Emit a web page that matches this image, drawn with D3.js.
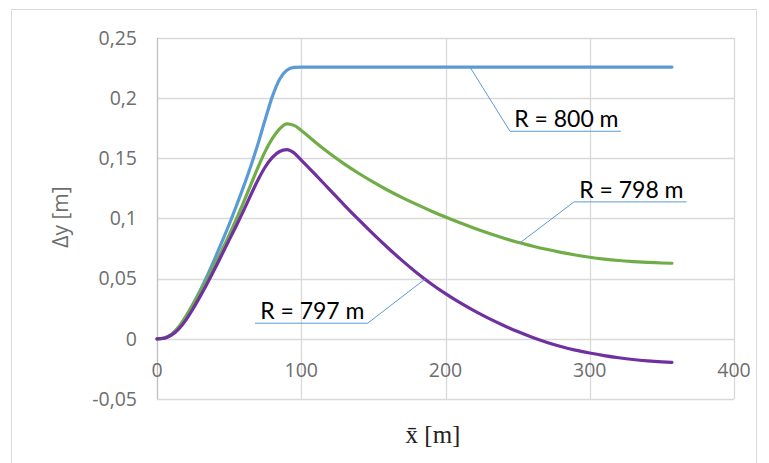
<!DOCTYPE html>
<html>
<head>
<meta charset="utf-8">
<script src="https://cdn.jsdelivr.net/npm/d3@7/dist/d3.min.js"></script>
<style>
  html, body { margin: 0; padding: 0; background: #fff; }
  svg { display: block; }
</style>
</head>
<body>
<svg id="chart" width="769" height="463"></svg>
<script>
// ---- data ----
const xs = [0,5,10,15,20,25,30,35,40,45,50,55,60,65,70,75,80,85,90,95,100,
  110,120,130,140,150,160,170,180,190,200,210,220,230,240,250,260,270,280,290,300,
  310,320,330,340,350,357];

const r800 = [0,0.0006,0.0037,0.0095,0.0185,0.029,0.0405,0.053,0.0665,0.0805,0.095,0.1105,0.1265,0.1435,0.162,0.1822,0.2015,0.2158,0.2232,0.2256,0.2258,
  0.2258,0.2258,0.2258,0.2258,0.2258,0.2258,0.2258,0.2258,0.2258,0.2258,0.2258,0.2258,0.2258,0.2258,0.2258,0.2258,0.2258,0.2258,0.2258,0.2258,
  0.2258,0.2258,0.2258,0.2258,0.2258,0.2258];

const r798 = [0,0.0006,0.0036,0.0098,0.0185,0.0285,0.039,0.050,0.0615,0.0735,0.0862,0.0995,0.1135,0.128,0.1425,0.1558,0.1665,0.1745,0.1786,0.1774,0.1732,
  0.1632,0.1538,0.1452,0.1374,0.1302,0.1235,0.1174,0.1117,0.1063,0.1012,0.0964,0.0919,0.0877,0.0838,0.0802,0.0772,0.0744,0.0719,0.0697,0.0678,
  0.0663,0.0651,0.0642,0.0635,0.063,0.0628];

const r797 = [0,0.0005,0.003,0.008,0.0155,0.025,0.0355,0.0465,0.058,0.070,0.082,0.094,0.1065,0.1195,0.132,0.1428,0.1508,0.1557,0.1572,0.1545,0.1485,
  0.1362,0.1236,0.111,0.0988,0.087,0.0757,0.065,0.055,0.0458,0.0375,0.030,0.0232,0.017,0.0113,0.0061,0.0014,-0.0028,-0.0064,-0.0094,-0.0118,
  -0.0139,-0.0157,-0.0172,-0.0183,-0.0191,-0.0195];

const seriesNames = ["R = 800 m", "R = 798 m", "R = 797 m"];
const xTicks = [0, 100, 200, 300, 400];
const xTickLabels = ["0", "100", "200", "300", "400"];
const yTicks = [0.25, 0.2, 0.15, 0.1, 0.05, 0, -0.05];
const yTickLabels = ["0,25", "0,2", "0,15", "0,1", "0,05", "0", "-0,05"];
const xTitle = "x\u0304 [m]";
const yTitle = "\u0394y [m]";

// ---- layout / style ----
const colors = ["#5B9BD5", "#70AD47", "#7030A0"];
const svg = d3.select("#chart");
const x = d3.scaleLinear().domain([0, 400]).range([157, 734]);
const y = d3.scaleLinear().domain([-0.05, 0.25]).range([399, 38]);

// outer border
svg.append("rect").attr("x", 11.5).attr("y", 9.5).attr("width", 745).attr("height", 480)
  .attr("fill", "none").attr("stroke", "#d9d9d9").attr("stroke-width", 1);

// gridlines
const grid = svg.append("g");
grid.selectAll(".hg").data(yTicks).join("line")
  .attr("x1", x(0)).attr("x2", x(400))
  .attr("y1", d => Math.round(y(d)) + 0.5).attr("y2", d => Math.round(y(d)) + 0.5)
  .attr("stroke", "#d9d9d9").attr("stroke-width", 1.3);
grid.selectAll(".vg").data(xTicks.slice(1)).join("line")
  .attr("y1", y(0.25)).attr("y2", y(-0.05))
  .attr("x1", d => Math.round(x(d)) + 0.5).attr("x2", d => Math.round(x(d)) + 0.5)
  .attr("stroke", "#d9d9d9").attr("stroke-width", 1.3);
// vertical axis line
svg.append("line").attr("x1", x(0) + 0.5).attr("x2", x(0) + 0.5)
  .attr("y1", y(0.25)).attr("y2", y(-0.05))
  .attr("stroke", "#bfbfbf").attr("stroke-width", 1.3);

// tick labels
const tickFont = "'Open Sans', 'Noto Sans', sans-serif";
const tickColor = "#6e6e6e";
svg.append("g").selectAll("text").data(yTicks).join("text")
  .attr("x", 137).attr("y", d => y(d)).attr("dy", "0.35em")
  .attr("text-anchor", "end").attr("font-family", tickFont).attr("font-size", 19.5)
  .attr("fill", tickColor).text((d, i) => yTickLabels[i]);
svg.append("g").selectAll("text").data(xTicks).join("text")
  .attr("x", d => x(d)).attr("y", y(-0.026)).attr("dy", "0.35em")
  .attr("text-anchor", "middle").attr("font-family", tickFont).attr("font-size", 19.5)
  .attr("fill", tickColor).text((d, i) => xTickLabels[i]);

// axis titles
svg.append("text").attr("transform", "translate(68,217) rotate(-90)")
  .attr("text-anchor", "middle").attr("font-family", tickFont).attr("font-size", 21)
  .attr("fill", tickColor).text(yTitle);
svg.append("text").attr("x", 433).attr("y", 443)
  .attr("text-anchor", "middle").attr("font-family", "'Liberation Serif', 'DejaVu Serif', serif")
  .attr("font-size", 25).attr("fill", "#222").text(xTitle);

// series lines
const allSeries = [r800, r798, r797];
const line = d3.line().x(d => x(d[0])).y(d => y(d[1])).curve(d3.curveMonotoneX);
allSeries.forEach((vals, i) => {
  svg.append("path").datum(xs.map((xv, j) => [xv, vals[j]]))
    .attr("d", line).attr("fill", "none").attr("stroke", colors[i])
    .attr("stroke-width", 3.2).attr("stroke-linecap", "round").attr("stroke-linejoin", "round");
});

// annotations (data units): anchor x on series, underline from x0 to x1 at yv
const annotations = [
  { s: 0, ax: 217, x0: 244.7, x1: 321.5, yv: 0.1725 },
  { s: 1, ax: 251.6, x0: 289.1, x1: 367.2, yv: 0.1138 },
  { s: 2, ax: 185.8, x0: 67.9, x1: 146.1, yv: 0.013 }
];
function interp(vals, xv) {
  const i = Math.max(1, d3.bisectLeft(xs, xv));
  const t = (xv - xs[i - 1]) / (xs[i] - xs[i - 1]);
  return vals[i - 1] + t * (vals[i] - vals[i - 1]);
}
annotations.forEach(a => {
  const ay = interp(allSeries[a.s], a.ax);
  const anchorIsRight = a.ax > a.x1;
  const joinX = anchorIsRight ? a.x1 : a.x0;
  svg.append("polyline")
    .attr("points", [[x(a.ax), y(ay)], [x(joinX), y(a.yv)], [x(anchorIsRight ? a.x0 : a.x1), y(a.yv)]]
      .map(p => p.join(",")).join(" "))
    .attr("fill", "none").attr("stroke", "#5B9BD5").attr("stroke-width", 1);
  svg.append("text").attr("x", (x(a.x0) + x(a.x1)) / 2 + 1).attr("y", y(a.yv) - 4)
    .attr("text-anchor", "middle").attr("font-family", "Lato, 'Open Sans', sans-serif")
    .attr("font-size", 23).attr("fill", "#000").text(seriesNames[a.s]);
});
</script>
</body>
</html>
